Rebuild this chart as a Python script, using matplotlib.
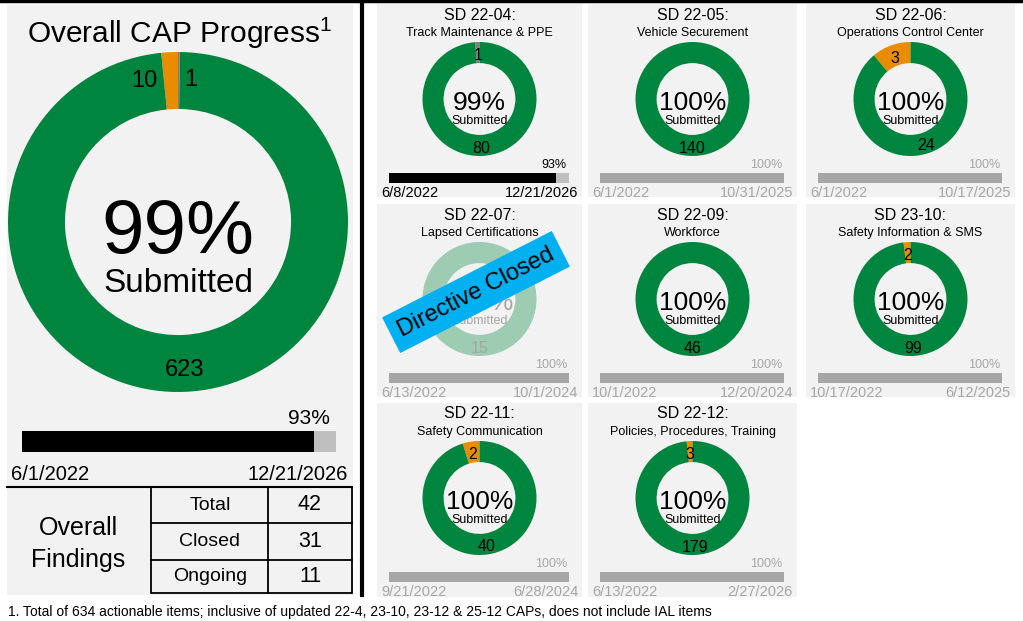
import math
import matplotlib
matplotlib.use("Agg")
import matplotlib.pyplot as plt
from matplotlib.patches import Rectangle

plt.rcParams["font.family"] = ["Liberation Sans", "DejaVu Sans"]
plt.rcParams["mathtext.fontset"] = "custom"
plt.rcParams["mathtext.rm"] = "Liberation Sans"
plt.rcParams["mathtext.it"] = "Liberation Sans"

GREEN = "#00853e"
ORANGE = "#ea8c00"
GREY = "#7f7f7f"
BG = "#f2f2f2"
DONE_GREY = "#a6a6a6"
REST_GREY = "#bfbfbf"

# ---- overall data
overall_values = [10, 623, 1]          # under review, submitted, pending
overall_colors = [ORANGE, GREEN, GREY]
overall_pct = 99
overall_time_pct = 93
overall_start = "6/1/2022"
overall_end = "12/21/2026"
findings_labels = ["Total", "Closed", "Ongoing"]
findings_values = [42, 31, 11]

# ---- per directive data
sd_codes = ["SD 22-04:", "SD 22-05:", "SD 22-06:", "SD 22-07:",
            "SD 22-09:", "SD 23-10:", "SD 22-11:", "SD 22-12:"]
sd_names = ["Track Maintenance & PPE", "Vehicle Securement", "Operations Control Center",
            "Lapsed Certifications", "Workforce", "Safety Information & SMS",
            "Safety Communication", "Policies, Procedures, Training"]
sd_pending = [1, 0, 0, 0, 0, 0, 0, 0]
sd_review = [0, 0, 3, 0, 0, 2, 2, 3]
sd_submitted = [80, 140, 24, 15, 46, 99, 40, 179]
sd_pct = [99, 100, 100, 100, 100, 100, 100, 100]
sd_time_pct = [93, 100, 100, 100, 100, 100, 100, 100]
sd_start = ["6/8/2022", "6/1/2022", "6/1/2022", "6/13/2022",
            "10/1/2022", "10/17/2022", "9/21/2022", "6/13/2022"]
sd_end = ["12/21/2026", "10/31/2025", "10/17/2025", "10/1/2024",
          "12/20/2024", "6/12/2025", "6/28/2024", "2/27/2026"]
sd_closed = [False, False, False, True, False, False, False, False]

footnote = ("1. Total of 634 actionable items; inclusive of updated 22-4, 23-10, "
            "23-12 & 25-12 CAPs, does not include IAL items")

W, H = 1023, 621
fig = plt.figure(figsize=(W / 100, H / 100), dpi=100)
fig.patch.set_facecolor("white")


def px_axes(x0, y0, x1, y1):
    ax = fig.add_axes([x0 / W, 1 - y1 / H, (x1 - x0) / W, (y1 - y0) / H])
    ax.axis("off")
    return ax


ax0 = fig.add_axes([0, 0, 1, 1])
ax0.set_xlim(0, W)
ax0.set_ylim(H, 0)
ax0.axis("off")

# frame lines
ax0.plot([0, W], [1, 1], color="black", lw=2.5)
ax0.plot([362, 362], [0, 595], color="black", lw=3)

# ---- left panel
ax0.add_patch(Rectangle((7, 5), 346, 590, color=BG, lw=0))
ax0.text(180, 33, "Overall CAP Progress$^{1}$", ha="center", va="center", fontsize=21.5)


def donut(ax, values, colors, width, alpha=1.0):
    wedges, _ = ax.pie(values, colors=colors, startangle=90, counterclock=True,
                       radius=1, wedgeprops=dict(width=width, linewidth=0, alpha=alpha))
    ax.set_xlim(-1, 1)
    ax.set_ylim(-1, 1)
    ax.set_aspect("equal")
    return wedges


cx, cy, R = 178, 222, 170
axd = px_axes(cx - R, cy - R, cx + R, cy + R)
ring = 0.335
wedges = donut(axd, overall_values, overall_colors, ring)
rmid = 1 - ring / 2
# small wedges at the top: labels beside them, big one at its middle
w_or, w_gr, w_pe = wedges
a = math.radians(w_or.theta2)
axd.text(rmid * math.cos(a) - 0.04, rmid * math.sin(a), str(overall_values[0]),
         ha="right", va="center", fontsize=17)
a = math.radians(w_pe.theta1)
axd.text(rmid * math.cos(a) + 0.03, rmid * math.sin(a), str(overall_values[2]),
         ha="left", va="center", fontsize=17)
a = math.radians((w_gr.theta1 + w_gr.theta2) / 2)
axd.text(0.87 * math.cos(a), 0.87 * math.sin(a), str(overall_values[1]),
         ha="center", va="center", fontsize=17)
axd.text(0, -0.065, f"{overall_pct}%", ha="center", va="center", fontsize=55)
axd.text(0, -0.36, "Submitted", ha="center", va="center", fontsize=24)

# overall time bar
axb = px_axes(22, 431, 336, 452)
axb.barh([0], [100], height=1, color=REST_GREY)
axb.barh([0], [overall_time_pct], height=1, color="black")
axb.set_xlim(0, 100)
axb.set_ylim(-0.5, 0.5)
ax0.text(330, 418, f"{overall_time_pct}%", ha="right", va="center", fontsize=15)
ax0.text(11, 475, overall_start, ha="left", va="center", fontsize=14.5)
ax0.text(348, 475, overall_end, ha="right", va="center", fontsize=14.5)

# findings table
ax0.plot([7, 352], [487, 487], color="black", lw=1.5)
row_y = [487, 523, 560, 593]
ax0.add_patch(Rectangle((151, 487), 201, 106, fill=False, ec="black", lw=1.3))
ax0.plot([268, 268], [487, 593], color="black", lw=1.3)
for yy in row_y[1:3]:
    ax0.plot([151, 352], [yy, yy], color="black", lw=1.3)
for k in range(3):
    ym = (row_y[k] + row_y[k + 1]) / 2
    ax0.text(210, ym, findings_labels[k], ha="center", va="center", fontsize=14)
    ax0.text(310, ym, str(findings_values[k]), ha="center", va="center", fontsize=15.5)
ax0.text(78, 528, "Overall", ha="center", va="center", fontsize=18)
ax0.text(78, 560, "Findings", ha="center", va="center", fontsize=18)

# ---- directive tiles
col_edges = [(377, 582), (588, 797), (806, 1015)]
row_edges = [(4, 197), (204, 397), (403, 597)]
TR = 57
tring = 0.37

for i in range(len(sd_codes)):
    r, c = divmod(i, 3)
    x0, x1 = col_edges[c]
    y0, y1 = row_edges[r]
    xc = (x0 + x1) / 2
    ax0.add_patch(Rectangle((x0, y0), x1 - x0, y1 - y0, color=BG, lw=0))
    ax0.text(xc, y0 + 11, sd_codes[i], ha="center", va="center", fontsize=11.5)
    ax0.text(xc, y0 + 29, sd_names[i], ha="center", va="center", fontsize=9)

    closed = sd_closed[i]
    vals, cols = [], []
    for v, col in zip([sd_pending[i], sd_review[i], sd_submitted[i]], [GREY, ORANGE, GREEN]):
        if v > 0:
            vals.append(v)
            cols.append(col)
    dcy = y0 + 95
    ax = px_axes(xc - TR, dcy - TR, xc + TR, dcy + TR)
    ws = donut(ax, vals, cols, tring, alpha=0.35 if closed else 1.0)
    txt_col = DONE_GREY if closed else "black"
    rm = 1 - tring / 2
    for w, v in zip(ws, vals):
        a = math.radians((w.theta1 + w.theta2) / 2)
        ax.text(rm * math.cos(a), rm * math.sin(a) - 0.05, str(v), ha="center",
                va="center", fontsize=11.5, color=txt_col)
    ax.text(0, -0.07, f"{sd_pct[i]}%", ha="center", va="center", fontsize=19, color=txt_col)
    ax.text(0, -0.39, "Submitted", ha="center", va="center", fontsize=9, color=txt_col)

    done = sd_time_pct[i] >= 100
    bx0, bx1 = x0 + 12, x1 - 13
    axb = px_axes(bx0, y0 + 169, bx1, y0 + 179)
    if done:
        axb.barh([0], [sd_time_pct[i]], height=1, color=DONE_GREY)
    else:
        axb.barh([0], [100], height=1, color=REST_GREY)
        axb.barh([0], [sd_time_pct[i]], height=1, color="black")
    axb.set_xlim(0, 100)
    axb.set_ylim(-0.5, 0.5)
    lab_col = DONE_GREY if done else "black"
    ax0.text(x1 - 15, y0 + 161, f"{sd_time_pct[i]}%", ha="right", va="center",
             fontsize=9, color=lab_col)
    ax0.text(x0 + 4, y0 + 189, sd_start[i], ha="left", va="center", fontsize=10.5, color=lab_col)
    ax0.text(x1 - 4, y0 + 189, sd_end[i], ha="right", va="center", fontsize=10.5, color=lab_col)

    if closed:
        fig.text(476 / W, 1 - 292 / H, "Directive Closed", rotation=27, rotation_mode="anchor",
                 ha="center", va="center", fontsize=17,
                 bbox=dict(boxstyle="square,pad=0.38", fc="#00b0f0", ec="none"))

ax0.text(8, 612, footnote, ha="left", va="center", fontsize=10)

fig.savefig("out.png", dpi=100)
plt.close(fig)
